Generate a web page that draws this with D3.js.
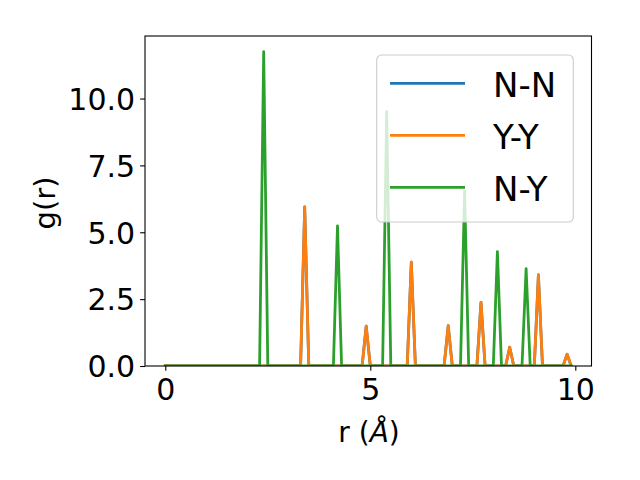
<!DOCTYPE html>
<html>
<head>
<meta charset="utf-8">
<script src="https://cdn.jsdelivr.net/npm/d3@7"></script>
<style>
  body { margin: 0; background: #fff; }
  svg { font-family: "DejaVu Sans", sans-serif; }
</style>
</head>
<body>
<svg id="chart" width="640" height="480"></svg>
<script>
// r grid (Angstrom)
const r = [
  0.0, 0.1, 0.2, 0.3, 0.4, 0.5, 0.6, 0.7, 0.8, 0.9,
  1.0, 1.1, 1.2, 1.3, 1.4, 1.5, 1.6, 1.7, 1.8, 1.9,
  2.0, 2.1, 2.2, 2.3, 2.4, 2.5, 2.6, 2.7, 2.8, 2.9,
  3.0, 3.1, 3.2, 3.3, 3.4, 3.5, 3.6, 3.7, 3.8, 3.9,
  4.0, 4.1, 4.2, 4.3, 4.4, 4.5, 4.6, 4.7, 4.8, 4.9,
  5.0, 5.1, 5.2, 5.3, 5.4, 5.5, 5.6, 5.7, 5.8, 5.9,
  6.0, 6.1, 6.2, 6.3, 6.4, 6.5, 6.6, 6.7, 6.8, 6.9,
  7.0, 7.1, 7.2, 7.3, 7.4, 7.5, 7.6, 7.7, 7.8, 7.9,
  8.0, 8.1, 8.2, 8.3, 8.4, 8.5, 8.6, 8.7, 8.8, 8.9,
  9.0, 9.1, 9.2, 9.3, 9.4, 9.5, 9.6, 9.7, 9.8, 9.9,
];

const gNN = [
  0, 0, 0, 0, 0, 0, 0, 0, 0, 0,
  0, 0, 0, 0, 0, 0, 0, 0, 0, 0,
  0, 0, 0, 0, 0, 0, 0, 0, 0, 0,
  0, 0, 0, 0, 5.95, 0, 0, 0, 0, 0,
  0, 0, 0, 0, 0, 0, 0, 0, 0, 1.49,
  0, 0, 0, 0, 0, 0, 0, 0, 0, 0,
  3.88, 0, 0, 0, 0, 0, 0, 0, 0, 1.51,
  0, 0, 0, 0, 0, 0, 0, 2.38, 0, 0,
  0, 0, 0, 0, 0.7, 0, 0, 0, 0, 0,
  0, 3.41, 0, 0, 0, 0, 0, 0, 0.44, 0,
];

const gYY = [
  0, 0, 0, 0, 0, 0, 0, 0, 0, 0,
  0, 0, 0, 0, 0, 0, 0, 0, 0, 0,
  0, 0, 0, 0, 0, 0, 0, 0, 0, 0,
  0, 0, 0, 0, 5.95, 0, 0, 0, 0, 0,
  0, 0, 0, 0, 0, 0, 0, 0, 0, 1.49,
  0, 0, 0, 0, 0, 0, 0, 0, 0, 0,
  3.88, 0, 0, 0, 0, 0, 0, 0, 0, 1.51,
  0, 0, 0, 0, 0, 0, 0, 2.38, 0, 0,
  0, 0, 0, 0, 0.7, 0, 0, 0, 0, 0,
  0, 3.41, 0, 0, 0, 0, 0, 0, 0.44, 0,
];

const gNY = [
  0, 0, 0, 0, 0, 0, 0, 0, 0, 0,
  0, 0, 0, 0, 0, 0, 0, 0, 0, 0,
  0, 0, 0, 0, 11.75, 0, 0, 0, 0, 0,
  0, 0, 0, 0, 0, 0, 0, 0, 0, 0,
  0, 0, 5.24, 0, 0, 0, 0, 0, 0, 0,
  0, 0, 0, 0, 9.52, 0, 0, 0, 0, 0,
  0, 0, 0, 0, 0, 0, 0, 0, 0, 0,
  0, 0, 0, 6.55, 0, 0, 0, 0, 0, 0,
  0, 4.28, 0, 0, 0, 0, 0, 0, 3.64, 0,
  0, 0, 0, 0, 0, 0, 0, 0, 0, 0,
];

const seriesNames = ["N-N", "Y-Y", "N-Y"];
const seriesValues = [gNN, gYY, gNY];
const colors = ["#1f77b4", "#ff7f0e", "#2ca02c"];

const xTicks = [0, 5, 10];
const yTicks = [0, 2.5, 5, 7.5, 10];

const margin = { top: 36, right: 48.5, bottom: 114, left: 145 };
const width = 640 - margin.left - margin.right;
const height = 480 - margin.top - margin.bottom;

const svg = d3.select("#chart");

// matplotlib-like 5% padding on x, bottom pinned at 0 on y
const [xMin, xMax] = d3.extent(r);
const xPad = (xMax - xMin) * 0.05;
const yMax = d3.max(seriesValues.flat());

const x = d3.scaleLinear()
  .domain([xMin - xPad, xMax + xPad])
  .range([margin.left, margin.left + width]);
const y = d3.scaleLinear()
  .domain([0, yMax * 1.05])
  .range([margin.top + height, margin.top]);

svg.append("defs").append("clipPath").attr("id", "clip")
  .append("rect")
  .attr("x", margin.left).attr("y", margin.top)
  .attr("width", width).attr("height", height);

const line = d3.line()
  .x((d, i) => x(r[i]))
  .y((d) => y(d));

svg.append("g")
  .attr("clip-path", "url(#clip)")
  .selectAll("path")
  .data(seriesValues)
  .join("path")
  .attr("d", line)
  .attr("fill", "none")
  .attr("stroke", (d, i) => colors[i])
  .attr("stroke-width", 2.78)
  .attr("stroke-linejoin", "round")
  .attr("stroke-linecap", "square");

// axes
const tickSize = 4.86;
const xAxis = svg.append("g")
  .attr("transform", `translate(0,${margin.top + height})`)
  .call(d3.axisBottom(x).tickValues(xTicks).tickSize(tickSize).tickPadding(6).tickFormat(d3.format("d")));
const yAxis = svg.append("g")
  .attr("transform", `translate(${margin.left},0)`)
  .call(d3.axisLeft(y).tickValues(yTicks).tickSize(tickSize).tickPadding(5).tickFormat(d3.format(".1f")));

[xAxis, yAxis].forEach((g) => {
  g.select(".domain").remove();
  g.selectAll(".tick line").attr("stroke", "#000").attr("stroke-width", 1.1);
  g.selectAll(".tick text")
    .attr("fill", "#000")
    .style("font-size", "30px")
    .style("font-family", "DejaVu Sans");
});
xAxis.selectAll(".tick text").attr("dy", "0.76em");
yAxis.selectAll(".tick text").attr("dy", "0.36em");

// frame
svg.append("rect")
  .attr("x", margin.left).attr("y", margin.top)
  .attr("width", width).attr("height", height)
  .attr("fill", "none")
  .attr("stroke", "#000")
  .attr("stroke-width", 1.1);

// axis labels
svg.append("text")
  .attr("x", 369).attr("y", 441.5)
  .attr("text-anchor", "middle")
  .style("font-size", "28px")
  .html('r (<tspan font-style="italic">Å</tspan>)');

svg.append("text")
  .attr("transform", "translate(55,203) rotate(-90)")
  .attr("text-anchor", "middle")
  .style("font-size", "29px")
  .text("g(r)");

// legend
const legend = svg.append("g");
legend.append("rect")
  .attr("x", 376.7).attr("y", 55)
  .attr("width", 196.6).attr("height", 167)
  .attr("rx", 5)
  .attr("fill", "#fff")
  .attr("fill-opacity", 0.8)
  .attr("stroke", "#cccccc")
  .attr("stroke-width", 1.1);

const items = legend.selectAll("g.item")
  .data(seriesNames)
  .join("g")
  .attr("class", "item")
  .attr("transform", (d, i) => `translate(0,${83.3 + i * 52})`);
items.append("line")
  .attr("x1", 390).attr("x2", 465)
  .attr("stroke", (d, i) => colors[i])
  .attr("stroke-width", 2.78);
items.append("text")
  .attr("x", 493)
  .attr("y", 13.3)
  .style("font-size", "34px")
  .text((d) => d);
</script>
</body>
</html>
